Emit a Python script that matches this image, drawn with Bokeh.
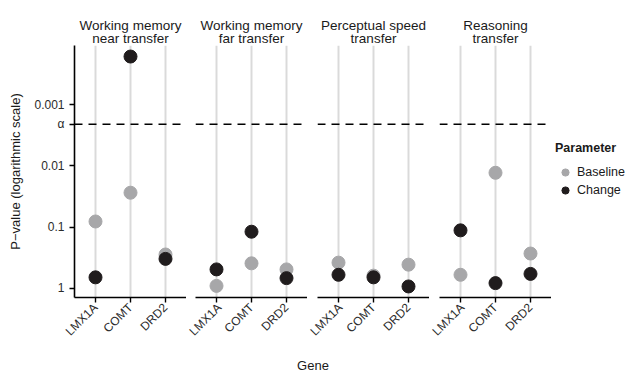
import math
from bokeh.plotting import figure
from bokeh.models import Range1d, FixedTicker, Span, Legend
from bokeh.layouts import row, column
from bokeh.embed import file_html
from bokeh.resources import INLINE
from bokeh.core.properties import value

# ---- data ----
genes = ["LMX1A", "COMT", "DRD2"]
panel_line1 = ["Working memory", "Working memory", "Perceptual speed", "Reasoning"]
panel_line2 = ["near transfer", "far transfer", "transfer", "transfer"]
baseline_wm_near = [0.081, 0.0275, 0.28]
change_wm_near = [0.66, 0.000165, 0.33]
baseline_wm_far = [0.91, 0.39, 0.49]
change_wm_far = [0.49, 0.119, 0.68]
baseline_speed = [0.38, 0.62, 0.41]
change_speed = [0.60, 0.66, 0.93]
baseline_reason = [0.60, 0.013, 0.27]
change_reason = [0.113, 0.82, 0.58]
baselines = [baseline_wm_near, baseline_wm_far, baseline_speed, baseline_reason]
changes = [change_wm_near, change_wm_far, change_speed, change_reason]
alpha = 0.0021
y_ticks = [0.001, alpha, 0.01, 0.1, 1]
y_tick_labels = ["0.001", "α", "0.01", "0.1", "1"]
legend_title = "Parameter"
series_names = ["Baseline", "Change"]

FONT = "Liberation Sans"
GRAY = "#a7a7a9"
BLACK = "#201c1d"
TXT = "#1a1a1a"

y_range = Range1d(start=1.408, end=1.09e-4)
xpos = [i + 1 for i in range(len(genes))]
x_mid = (xpos[0] + xpos[-1]) / 2

widths = [186, 121, 122, 122]
lefts = [74, 9, 10, 10]
STRIP_H = 45
MAIN_H = 312

cols = []
for i in range(len(panel_line1)):
    first = i == 0

    # facet strip label
    s = figure(width=widths[i], height=STRIP_H, x_range=Range1d(0.4, len(genes) + 0.6),
               y_range=Range1d(STRIP_H, 0), min_border_left=lefts[i], min_border_right=0,
               min_border_top=0, min_border_bottom=0, toolbar_location=None,
               output_backend="svg", title_location=None)
    s.outline_line_color = None
    s.axis.visible = False
    s.grid.visible = False
    s.text(x=[x_mid, x_mid], y=[25, 38], text=[panel_line1[i], panel_line2[i]],
           text_align="center", text_baseline="alphabetic", text_font=value(FONT),
           text_font_size="13.5px", text_color=TXT)

    p = figure(width=widths[i], height=MAIN_H, x_range=Range1d(0.4, len(genes) + 0.6),
               y_range=y_range, y_axis_type="log", output_backend="svg",
               toolbar_location=None, title_location=None,
               min_border_left=lefts[i], min_border_right=0,
               min_border_top=0, min_border_bottom=60)
    p.outline_line_color = None

    # x axis
    p.xaxis.ticker = FixedTicker(ticks=xpos)
    p.xaxis.major_label_overrides = {x: g for x, g in zip(xpos, genes)}
    p.xaxis.major_label_orientation = math.pi / 4
    p.xaxis.major_label_text_align = "right"
    p.xaxis.major_label_text_baseline = "middle"
    p.xaxis.major_label_standoff = 3
    p.xaxis.major_label_text_font = FONT
    p.xaxis.major_label_text_font_size = "12px"
    p.xaxis.major_label_text_color = "#2b2b2b"
    p.xaxis.axis_line_width = 1.6
    p.xaxis.axis_line_color = "black"
    p.xaxis.major_tick_out = 5
    p.xaxis.major_tick_in = 0
    p.xaxis.major_tick_line_width = 1.4
    p.xaxis.minor_tick_line_color = None

    # y axis
    if first:
        p.yaxis.ticker = FixedTicker(ticks=y_ticks)
        p.yaxis.major_label_overrides = {t: l for t, l in zip(y_ticks, y_tick_labels)}
        p.yaxis.major_label_text_font = FONT
        p.yaxis.major_label_text_font_size = "12px"
        p.yaxis.major_label_text_color = "#2b2b2b"
        p.yaxis.axis_line_width = 1.6
        p.yaxis.axis_line_color = "black"
        p.yaxis.major_tick_out = 5
        p.yaxis.major_tick_in = 0
        p.yaxis.major_tick_line_width = 1.4
        p.yaxis.minor_tick_line_color = None
        p.yaxis.axis_label = "P\u2212value (logarithmic scale)"
        p.yaxis.axis_label_text_font = FONT
        p.yaxis.axis_label_text_font_size = "13px"
        p.yaxis.axis_label_text_font_style = "normal"
        p.yaxis.axis_label_text_color = TXT
        p.yaxis.axis_label_standoff = 8
    else:
        p.yaxis.visible = False

    p.xgrid.grid_line_color = "#dadada"
    p.xgrid.grid_line_width = 2
    p.ygrid.visible = False

    p.add_layout(Span(location=alpha, dimension="width", line_color="black",
                      line_width=1.5, line_dash="8 6"))

    p.scatter(x=xpos, y=baselines[i], size=13, color=GRAY)
    p.scatter(x=xpos, y=changes[i], size=13, color=BLACK)
    cols.append(column(s, p))

# legend panel (its own small plot, same frame height); key glyphs sit outside its view
lg = figure(width=80, height=STRIP_H + MAIN_H, x_range=Range1d(0, 1), y_range=Range1d(0, 1),
            min_border_left=0, min_border_right=0, min_border_top=STRIP_H,
            min_border_bottom=60, toolbar_location=None, output_backend="svg",
            title_location=None)
lg.outline_line_color = None
lg.axis.visible = False
lg.grid.visible = False
rb = lg.scatter(x=[-5], y=[-5], size=13, color=GRAY)
rc = lg.scatter(x=[-5], y=[-5], size=13, color=BLACK)
legend = Legend(items=[(series_names[0], [rb]), (series_names[1], [rc])],
                title=legend_title, location=(4, 98))
legend.title_text_font = FONT
legend.title_text_font_size = "12.5px"
legend.title_text_font_style = "bold"
legend.title_text_color = TXT
legend.title_standoff = 8
legend.label_text_font = FONT
legend.label_text_font_size = "12.5px"
legend.label_text_color = TXT
legend.glyph_width = 20
legend.glyph_height = 18
legend.label_height = 14
legend.spacing = 0
legend.padding = 0
legend.margin = 0
legend.label_standoff = 2
legend.border_line_color = None
legend.background_fill_alpha = 0
lg.add_layout(legend)

g = figure(width=sum(widths) + 80, height=16, x_range=Range1d(0, 1), y_range=Range1d(0, 1),
           min_border_left=74, min_border_right=80, min_border_top=0,
           min_border_bottom=0, toolbar_location=None, output_backend="svg",
           title_location=None)
g.outline_line_color = None
g.axis.visible = False
g.grid.visible = False
g.text(x=[0.5], y=[0.5], text=["Gene"], text_align="center", text_baseline="middle",
       text_font=value(FONT), text_font_size="13px", text_color=TXT)

layout = column(row(*cols, lg), g)
open("out.html", "w").write(file_html(layout, INLINE))
